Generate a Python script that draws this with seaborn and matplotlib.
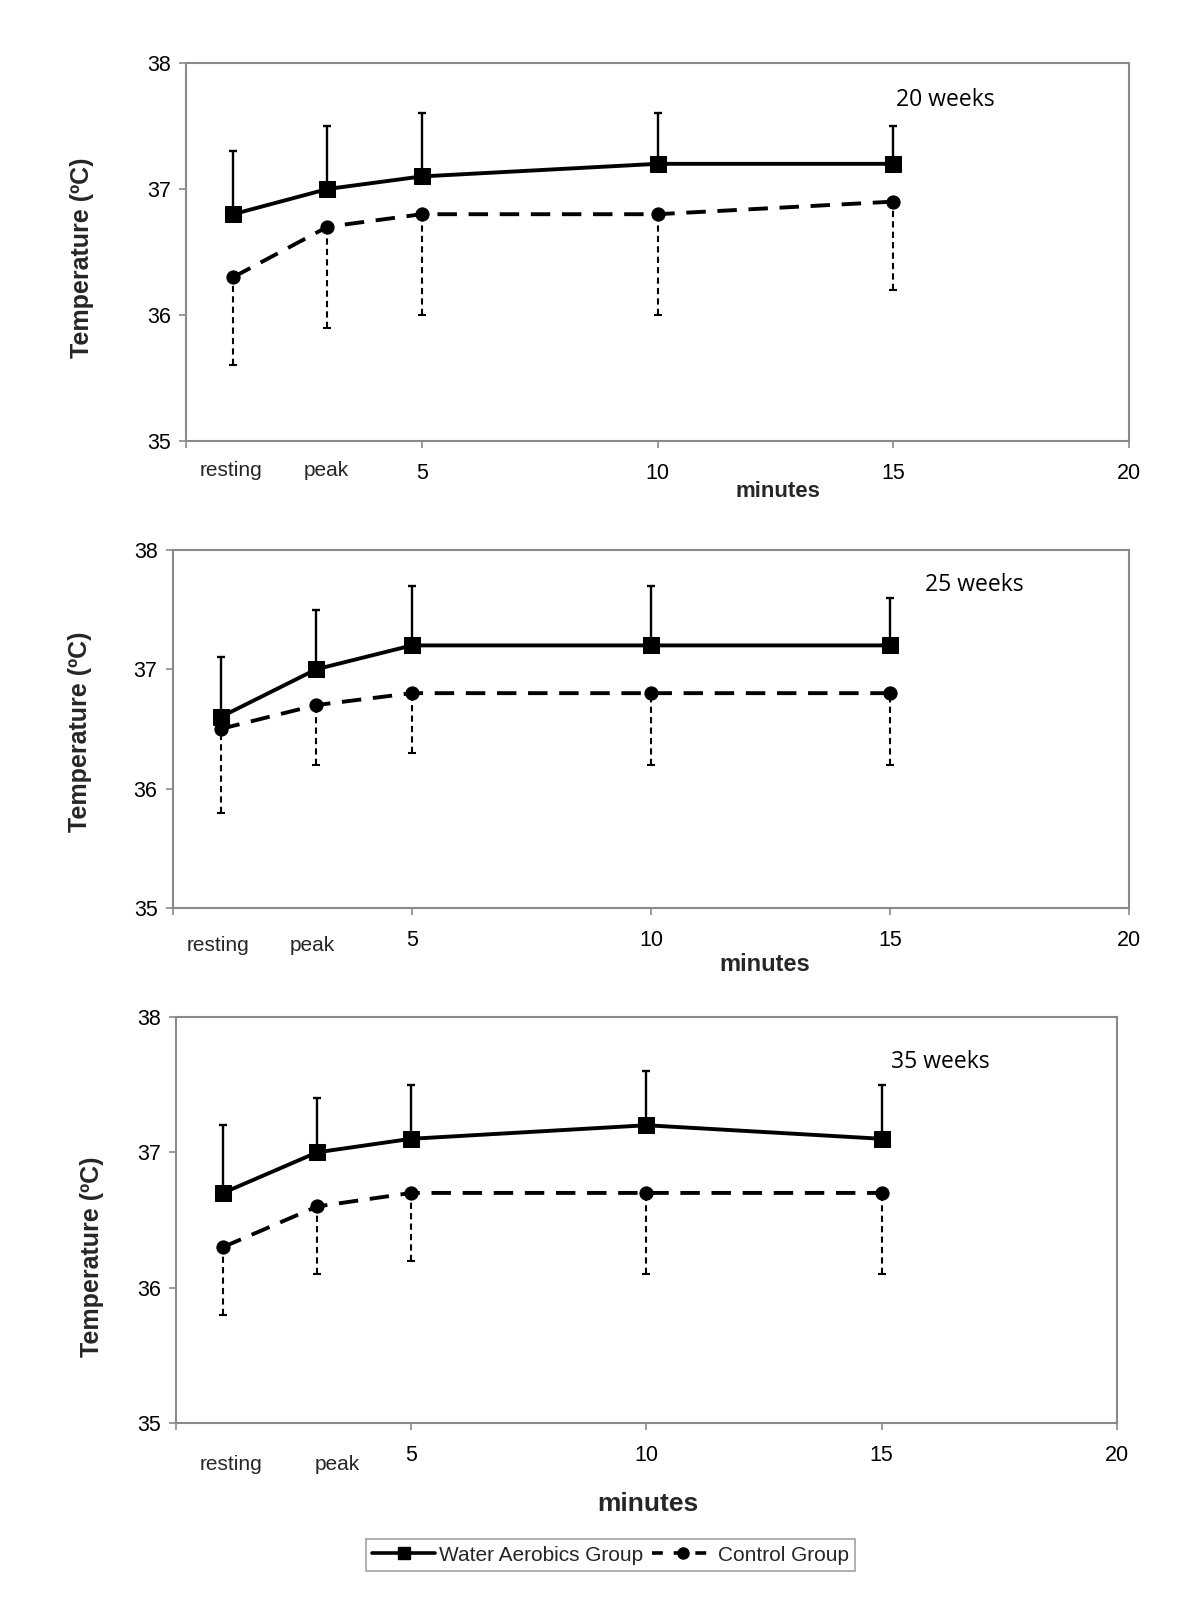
import numpy as np
import pandas as pd
import seaborn as sns
import matplotlib.pyplot as plt
from matplotlib.lines import Line2D

# time points (minutes axis), resting / peak sit at 1 and 3
minutes = [1, 3, 5, 10, 15]
weeks = ["20 weeks", "25 weeks", "35 weeks"]

water_mean = [[36.8, 37.0, 37.1, 37.2, 37.2],
              [36.6, 37.0, 37.2, 37.2, 37.2],
              [36.7, 37.0, 37.1, 37.2, 37.1]]
water_top = [[37.3, 37.5, 37.6, 37.6, 37.5],
             [37.1, 37.5, 37.7, 37.7, 37.6],
             [37.2, 37.4, 37.5, 37.6, 37.5]]
control_mean = [[36.3, 36.7, 36.8, 36.8, 36.9],
                [36.5, 36.7, 36.8, 36.8, 36.8],
                [36.3, 36.6, 36.7, 36.7, 36.7]]
control_low = [[35.6, 35.9, 36.0, 36.0, 36.2],
               [35.8, 36.2, 36.3, 36.2, 36.2],
               [35.8, 36.1, 36.2, 36.1, 36.1]]

xticks = [0, 5, 10, 15, 20]
xticklabels = ["", "5", "10", "15", "20"]
yticks = [35, 36, 37, 38]

sns.set_style("white")
plt.rcParams["font.family"] = ["Liberation Sans", "DejaVu Sans"]

fig = plt.figure(figsize=(12, 16), dpi=100)

# axes rects and per-panel text positions (figure fractions)
rects = [[0.155, 0.7244, 0.786, 0.2362],
         [0.144, 0.4325, 0.797, 0.2238],
         [0.1467, 0.1106, 0.784, 0.2538]]
ylab_pos = [(0.068, 0.839), (0.067, 0.5425), (0.077, 0.2144)]
min_pos = [(0.648, 0.693), (0.6375, 0.397), (0.54, 0.06)]
min_size = [16, 17, 19]
week_pos = [(0.788, 0.9375), (0.812, 0.6345), (0.784, 0.336)]
rest_x = [(0.95, 2.98), (0.95, 2.91), (1.16, 3.42)]
rest_off = [-21, -27, -30]
gray = "#8a8a8a"

for i in range(3):
    ax = fig.add_axes(rects[i])
    df = pd.DataFrame({"minute": minutes * 2,
                       "temp": water_mean[i] + control_mean[i],
                       "group": ["Water Aerobics Group"] * 5 + ["Control Group"] * 5})
    w = df[df["group"] == "Water Aerobics Group"]
    c = df[df["group"] == "Control Group"]

    # one-sided error bars
    ax.errorbar(minutes, water_mean[i],
                yerr=[np.zeros(5), np.array(water_top[i]) - np.array(water_mean[i])],
                fmt="none", ecolor="black", elinewidth=1.7, capsize=3, capthick=1.7, zorder=2)
    eb = ax.errorbar(minutes, control_mean[i],
                     yerr=[np.array(control_mean[i]) - np.array(control_low[i]), np.zeros(5)],
                     fmt="none", ecolor="black", elinewidth=1.5, capsize=3, capthick=1.5, zorder=2)
    eb[2][0].set_linestyle((0, (3, 2)))

    sns.lineplot(data=w, x="minute", y="temp", ax=ax, color="black", linewidth=2.8,
                 marker="s", markersize=12, markeredgecolor="black", legend=False, zorder=3)
    sns.lineplot(data=c, x="minute", y="temp", ax=ax, color="black", linewidth=2.8,
                 linestyle=(0, (5, 3)), marker="o", markersize=9.5,
                 markeredgecolor="black", legend=False, zorder=3)

    ax.set_xlim(0, 20)
    ax.set_ylim(35, 38)
    ax.set_xticks(xticks)
    ax.set_xticklabels(xticklabels)
    ax.set_yticks(yticks)
    ax.set_xlabel("")
    ax.set_ylabel("")
    ax.tick_params(axis="both", labelsize=15.5, colors="black", direction="out",
                   length=5, width=1.2, color=gray, left=True, bottom=True)
    ax.tick_params(axis="x", pad=11)
    ax.tick_params(axis="y", pad=6)
    for s in ax.spines.values():
        s.set_color(gray)
        s.set_linewidth(1.5)

    for lab, xv in zip(["resting", "peak"], rest_x[i]):
        ax.annotate(lab, xy=(xv, 0), xycoords=("data", "axes fraction"),
                    xytext=(0, rest_off[i]), textcoords="offset points",
                    ha="center", va="center", fontsize=15)

    fig.text(*ylab_pos[i], "Temperature (ºC)", rotation=90, ha="center", va="center",
             fontsize=18, fontweight="bold")
    fig.text(*min_pos[i], "minutes", ha="center", va="center",
             fontsize=min_size[i], fontweight="bold")
    fig.text(*week_pos[i], weeks[i], ha="center", va="center", fontsize=16.5,
             color="black", family=["Open Sans", "DejaVu Sans"])

handles = [Line2D([], [], color="black", lw=2.6, marker="s", markersize=9, label="Water Aerobics Group"),
           Line2D([], [], color="black", lw=2.6, linestyle=(0, (3, 3)), marker="o", markersize=8,
                  label="Control Group")]
leg = fig.legend(handles=handles, loc="center", bbox_to_anchor=(0.509, 0.028), ncol=2,
                 fontsize=15, frameon=True, fancybox=False, handlelength=3,
                 columnspacing=0.4, handletextpad=0.2, borderpad=0.3, borderaxespad=0)
leg.get_frame().set_edgecolor(gray)
leg.get_frame().set_linewidth(1.2)

fig.savefig("out.png", dpi=100, facecolor="white")
